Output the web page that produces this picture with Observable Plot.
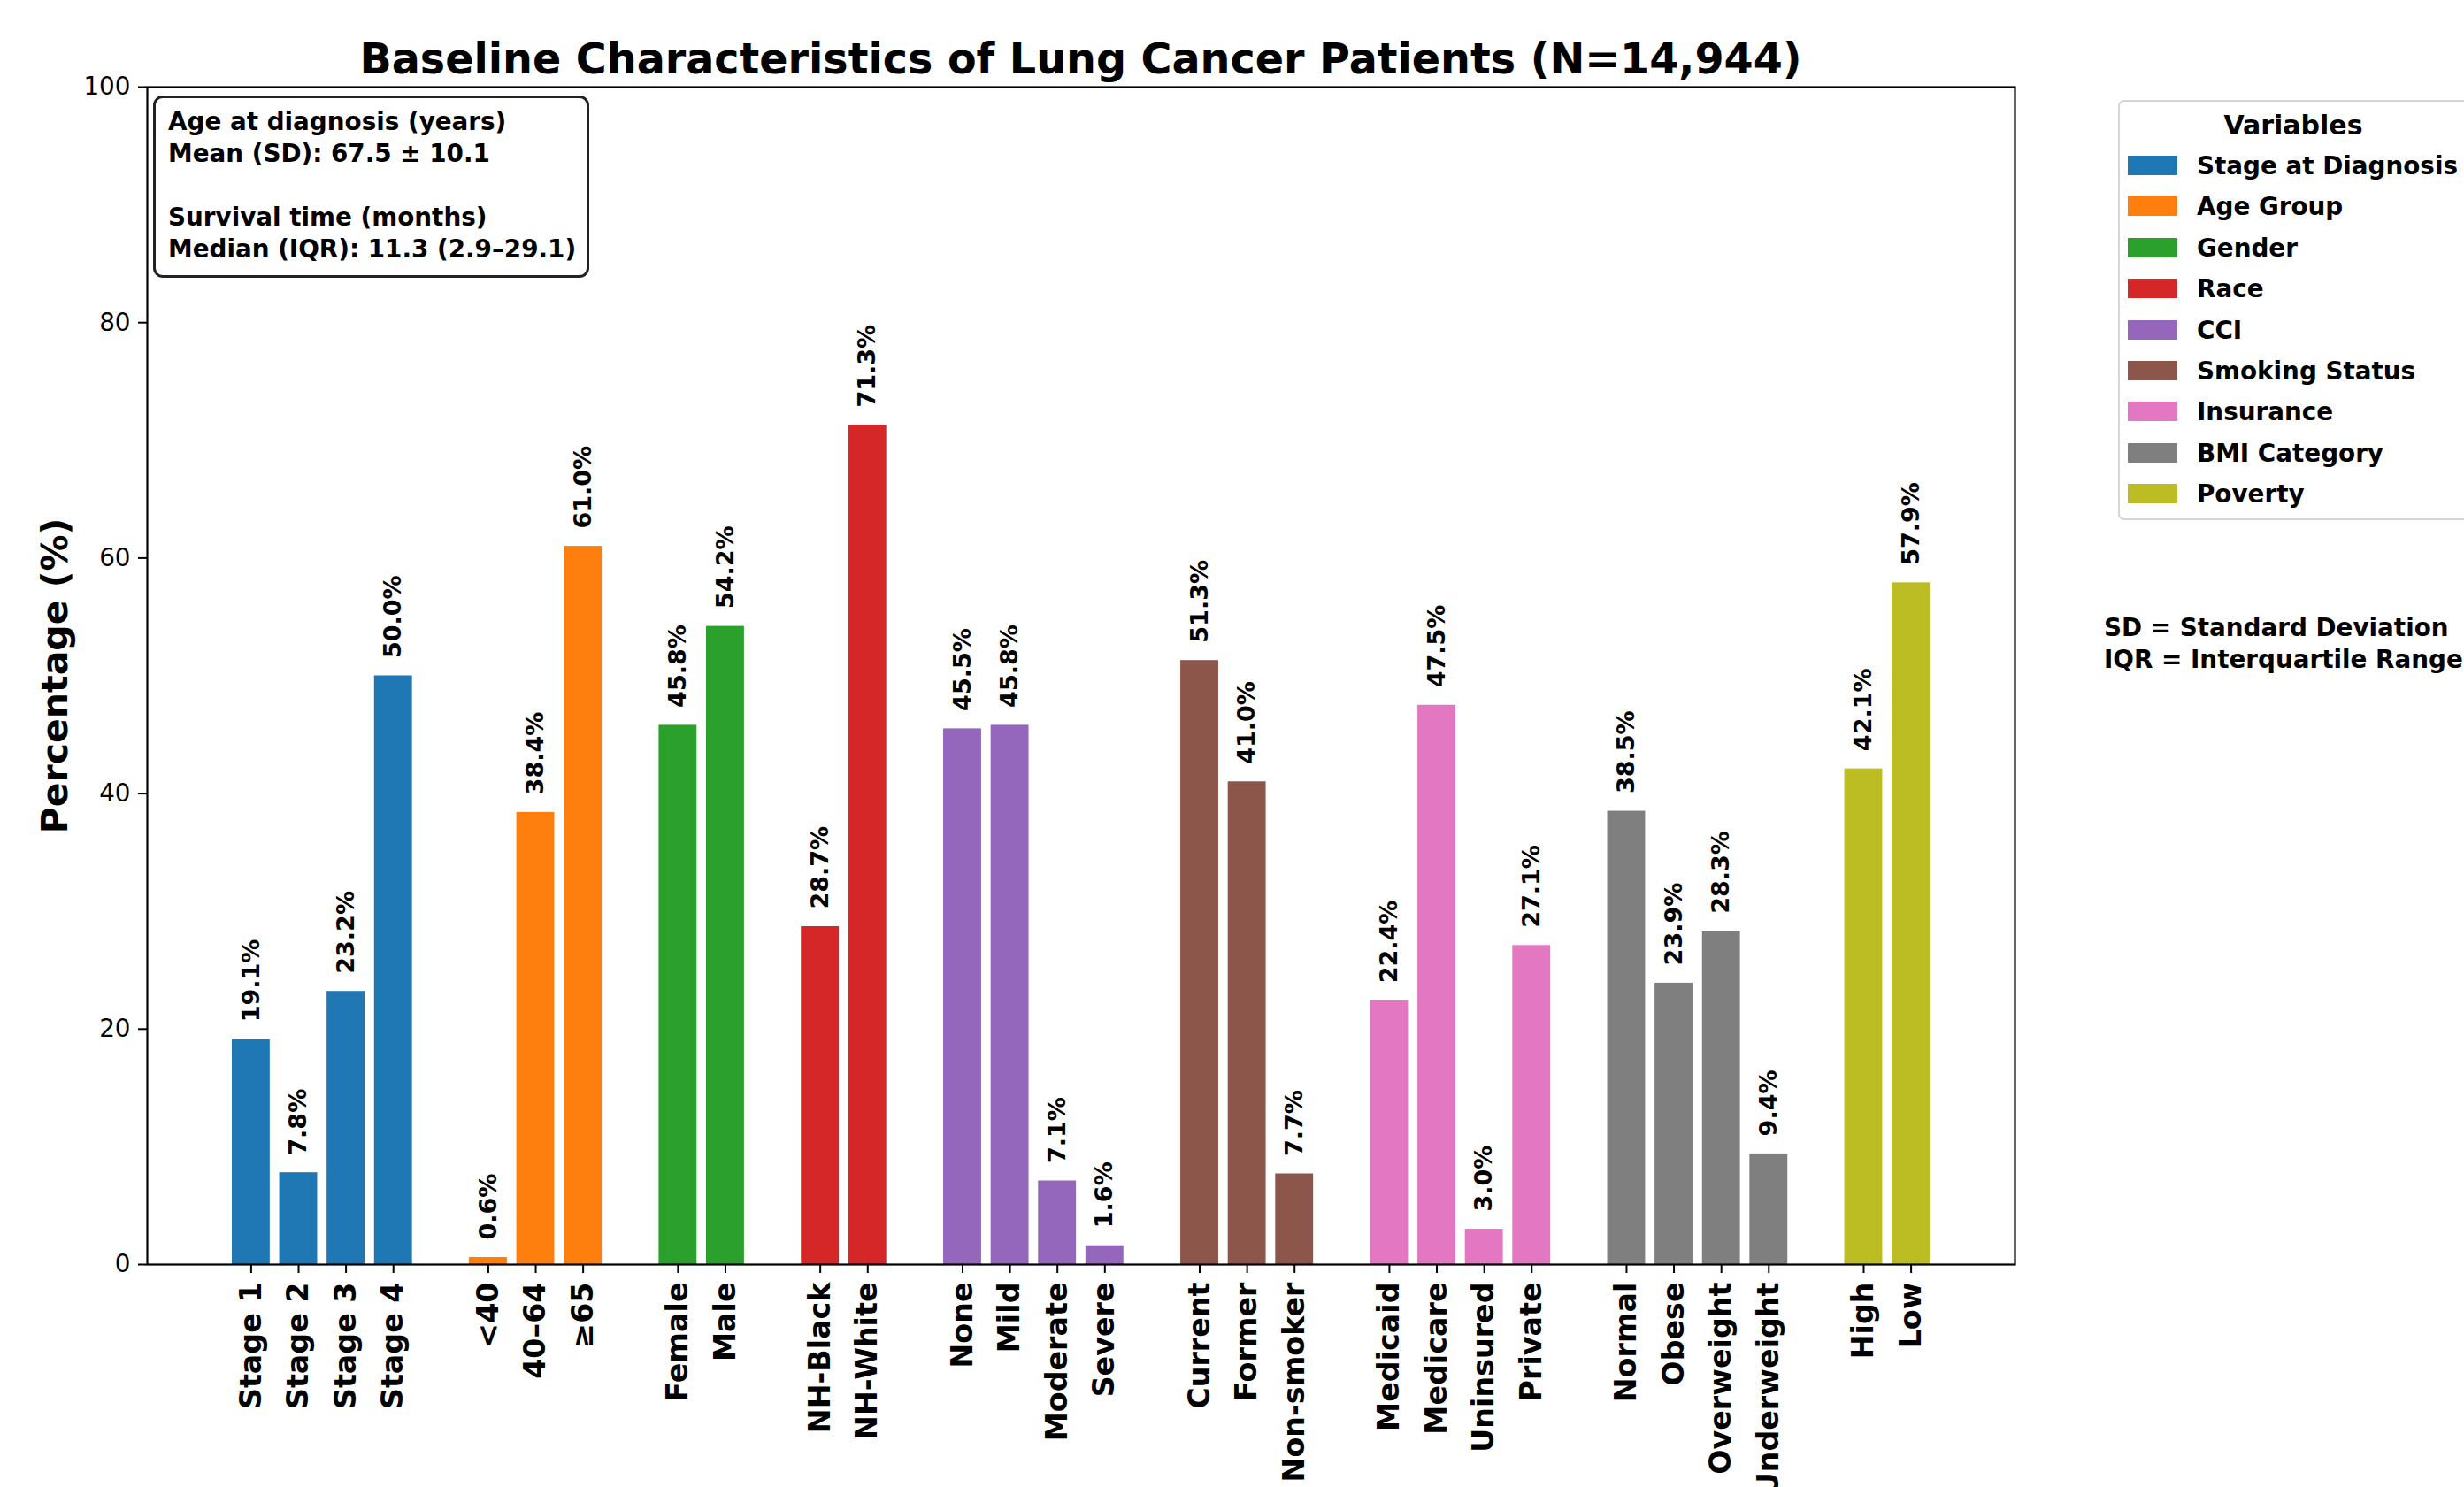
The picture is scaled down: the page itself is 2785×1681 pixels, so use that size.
<!DOCTYPE html>
<html>
<head>
<meta charset="utf-8">
<script src="https://cdn.jsdelivr.net/npm/d3@7"></script>
<script src="https://cdn.jsdelivr.net/npm/@observablehq/plot@0.6"></script>
<style>
  html, body { margin: 0; padding: 0; background: white; overflow: hidden; }
  #wrap { position: relative; width: 2785px; height: 1681px; font-family: "DejaVu Sans", sans-serif; color: black; }
  .abs { position: absolute; white-space: nowrap; }
  #title { left: 0; width: 2443px; top: 66px; transform: translateY(-50%); text-align: center; font-size: 47.6px; font-weight: bold; }
  #note { left: 173px; top: 108px; border: 3px solid #222; border-radius: 11px; background: white; box-sizing: border-box; width: 493px; height: 206px; padding: 9px 0 0 14px; font-size: 27.8px; font-weight: bold; line-height: 36px; }
  #legend { left: 2394px; top: 113px; width: 400px; height: 475px; border: 2px solid #d4d4d4; border-radius: 7px; background: white; box-sizing: border-box; }
  .lt { font-size: 30px; font-weight: bold; }
  .li { font-size: 27.8px; font-weight: bold; }
  .sw { position: absolute; width: 56px; height: 22px; }
</style>
</head>
<body>
<div id="wrap">
  <div id="chart"></div>
</div>
<script>
// ---- data ----
const groupNames = ["Stage at Diagnosis", "Age Group", "Gender", "Race", "CCI", "Smoking Status", "Insurance", "BMI Category", "Poverty"];
const groupColors = ["#1f77b4", "#ff7f0e", "#2ca02c", "#d62728", "#9467bd", "#8c564b", "#e377c2", "#7f7f7f", "#bcbd22"];

const stageCats = ["Stage 1", "Stage 2", "Stage 3", "Stage 4"];
const stageVals = [19.1, 7.8, 23.2, 50.0];
const ageCats = ["<40", "40–64", "≥65"];
const ageVals = [0.6, 38.4, 61.0];
const genderCats = ["Female", "Male"];
const genderVals = [45.8, 54.2];
const raceCats = ["NH-Black", "NH-White"];
const raceVals = [28.7, 71.3];
const cciCats = ["None", "Mild", "Moderate", "Severe"];
const cciVals = [45.5, 45.8, 7.1, 1.6];
const smokingCats = ["Current", "Former", "Non-smoker"];
const smokingVals = [51.3, 41.0, 7.7];
const insuranceCats = ["Medicaid", "Medicare", "Uninsured", "Private"];
const insuranceVals = [22.4, 47.5, 3.0, 27.1];
const bmiCats = ["Normal", "Obese", "Overweight", "Underweight"];
const bmiVals = [38.5, 23.9, 28.3, 9.4];
const povertyCats = ["High", "Low"];
const povertyVals = [42.1, 57.9];

const yTicks = [0, 20, 40, 60, 80, 100];

const titleText = "Baseline Characteristics of Lung Cancer Patients (N=14,944)";
const yLabel = "Percentage (%)";
const noteLines = ["Age at diagnosis (years)", "Mean (SD): 67.5 ± 10.1", "", "Survival time (months)", "Median (IQR): 11.3 (2.9–29.1)"];
const legendTitle = "Variables";
const abbrevLines = ["SD = Standard Deviation", "IQR = Interquartile Range"];

// ---- build table ----
const groupCats = [stageCats, ageCats, genderCats, raceCats, cciCats, smokingCats, insuranceCats, bmiCats, povertyCats];
const groupVals = [stageVals, ageVals, genderVals, raceVals, cciVals, smokingVals, insuranceVals, bmiVals, povertyVals];
const rows = [];
let slot = 0;
groupNames.forEach((g, gi) => {
  groupCats[gi].forEach((c, i) => {
    rows.push({group: g, cat: c, value: groupVals[gi][i], x: slot});
    slot++;
  });
  slot++; // gap between groups
});
const lastX = rows[rows.length - 1].x;
const span = lastX + 0.8;
const xDomain = [-0.4 - 0.05 * span, lastX + 0.4 + 0.05 * span];
const labelByX = new Map(rows.map(d => [d.x, d.cat]));

const chart = Plot.plot({
  width: 2785,
  height: 1681,
  marginLeft: 166,
  marginRight: 508,
  marginTop: 98,
  marginBottom: 252,
  x: {domain: xDomain, axis: null},
  y: {domain: [0, 100], axis: null},
  color: {domain: groupNames, range: groupColors},
  style: {fontFamily: "DejaVu Sans", background: "white", color: "black", overflow: "visible"},
  marks: [
    Plot.rect(rows, {x1: d => d.x - 0.4, x2: d => d.x + 0.4, y1: 0, y2: "value", fill: "group"}),
    Plot.text(rows, {x: "x", y: "value", text: d => d.value.toFixed(1) + "%", rotate: -90, textAnchor: "start", dy: -20, fontSize: 27, fontWeight: "bold", fill: "black"}),
    Plot.axisX(rows.map(d => d.x), {tickFormat: d => labelByX.get(d), tickRotate: -90, fontSize: 33.3, fontWeight: "bold", tickSize: 10, tickPadding: 10, label: null, strokeWidth: 2}),
    Plot.axisY(yTicks, {fontSize: 27.8, tickSize: 10, tickPadding: 9, label: null, strokeWidth: 2}),
    Plot.frame({stroke: "black", strokeWidth: 2.2}),
    Plot.text([yLabel], {frameAnchor: "left", textAnchor: "middle", rotate: -90, dx: -104, fontSize: 41, fontWeight: "bold", fill: "black"})
  ]
});
document.getElementById("chart").appendChild(chart);

const wrap = document.getElementById("wrap");
function addDiv(cls, id, html, css) {
  const d = document.createElement("div");
  d.className = "abs " + (cls || "");
  if (id) d.id = id;
  d.innerHTML = html;
  Object.assign(d.style, css || {});
  wrap.appendChild(d);
  return d;
}
addDiv("", "title", titleText);
addDiv("", "note", noteLines.map(l => l === "" ? "&nbsp;" : l).join("<br>"));

const legend = addDiv("", "legend", "");
const lt = document.createElement("div");
lt.className = "abs lt";
lt.textContent = legendTitle;
Object.assign(lt.style, {left: "0px", width: "392px", textAlign: "center", top: "26px", transform: "translateY(-50%)"});
legend.appendChild(lt);
groupNames.forEach((g, i) => {
  const cy = 187 - 115 + i * 46.4;
  const sw = document.createElement("div");
  sw.className = "sw";
  Object.assign(sw.style, {left: "9px", top: (cy - 11) + "px", background: groupColors[i]});
  legend.appendChild(sw);
  const t = document.createElement("div");
  t.className = "abs li";
  t.textContent = g;
  Object.assign(t.style, {left: "87px", top: cy + "px", transform: "translateY(-50%)"});
  legend.appendChild(t);
});
abbrevLines.forEach((l, i) => {
  addDiv("li", null, l, {left: "2378px", top: (709 + i * 36) + "px", transform: "translateY(-50%)"});
});
</script>
</body>
</html>
